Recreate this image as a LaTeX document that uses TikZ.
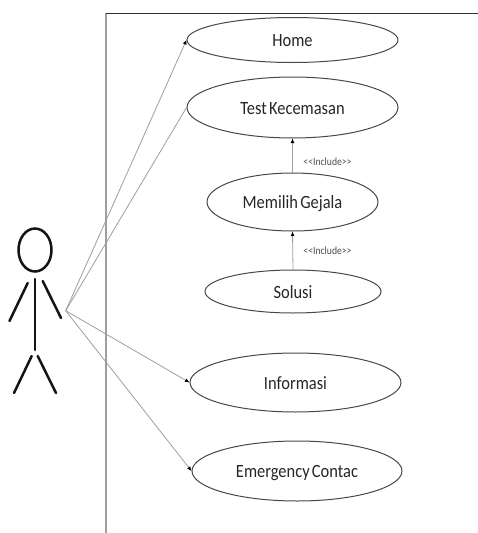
\documentclass[tikz,border=0pt]{standalone}
\usepackage{fontspec}
\setmainfont[FakeStretch=0.88,WordSpace=0.6]{Carlito}
\usetikzlibrary{arrows.meta,shapes.geometric}
\tikzset{
  x=1pt,y=-1pt,
  usecase/.style={draw=black!72,line width=1pt,ellipse,inner sep=0pt,text height=15.4pt,text depth=2pt,font=\fontsize{18.7}{20}\selectfont,text=black!85},
  assoc/.style={draw=black!38,line width=0.8pt},
  arrowed/.style={assoc,-{Latex[black,length=4.5pt,width=4pt]}},
  incl/.style={arrowed},
  incltext/.style={font=\fontsize{11}{12}\selectfont,text=black!70,inner sep=0pt},
  stick/.style={draw=black!92,line width=2.5pt,line cap=round},
  border/.style={draw=black!38,line width=1.6pt}
}
\begin{document}
\begin{tikzpicture}
\useasboundingbox (0,0) rectangle (478,533);
% system boundary
\coordinate (tl) at (106,13);
\coordinate (tr) at (478,13);
\coordinate (bl) at (106,533);
\draw[border] (bl) -- (tl);
\draw[draw=black!80,line width=1pt] (tl) -- (tr);
% actor
\node[draw=black!92,line width=2.5pt,ellipse,minimum width=33pt,minimum height=43pt,inner sep=0pt] (head) at (35,250) {};
\coordinate (neck) at (35,279);
\coordinate (hip) at (35,350);
\draw[stick] (neck) -- (hip);
\draw[stick] (27.7,283) -- (9.5,321);
\draw[stick] (42.7,281) -- (61,318);
\draw[stick] (31.7,356) -- (14,393);
\draw[stick] (37.7,356) -- (56,393);
\coordinate (actor) at (65.7,310.7);
% use cases
\node[usecase,minimum width=211pt,minimum height=45pt] (home) at (292.5,40) {Home};
\node[usecase,minimum width=211pt,minimum height=61pt] (test) at (292.5,107.5) {Test Kecemasan};
\node[usecase,minimum width=171pt,minimum height=58pt] (gejala) at (292.5,202) {Memilih Gejala};
\node[usecase,minimum width=176pt,minimum height=43pt] (solusi) at (293,291.5) {Solusi};
\node[usecase,minimum width=211pt,minimum height=59pt] (info) at (295.5,382.5) {Informasi};
\node[usecase,minimum width=210pt,minimum height=60pt] (emer) at (297,471) {Emergency Contac};
% connectors
\draw[arrowed] (actor) -- (home.west);
\draw[assoc] (actor) -- (test.west);
\draw[arrowed] (actor) -- (info.west);
\draw[arrowed] (actor) -- (emer.west);
\draw[incl] (gejala.north) -- (test.south);
\draw[incl] (solusi.north) -- (gejala.south);
\node[incltext] at (327.5,162) {<\kern0pt<Include>\kern0pt>};
\node[incltext] at (327.5,251) {<\kern0pt<Include>\kern0pt>};
\end{tikzpicture}
\end{document}
